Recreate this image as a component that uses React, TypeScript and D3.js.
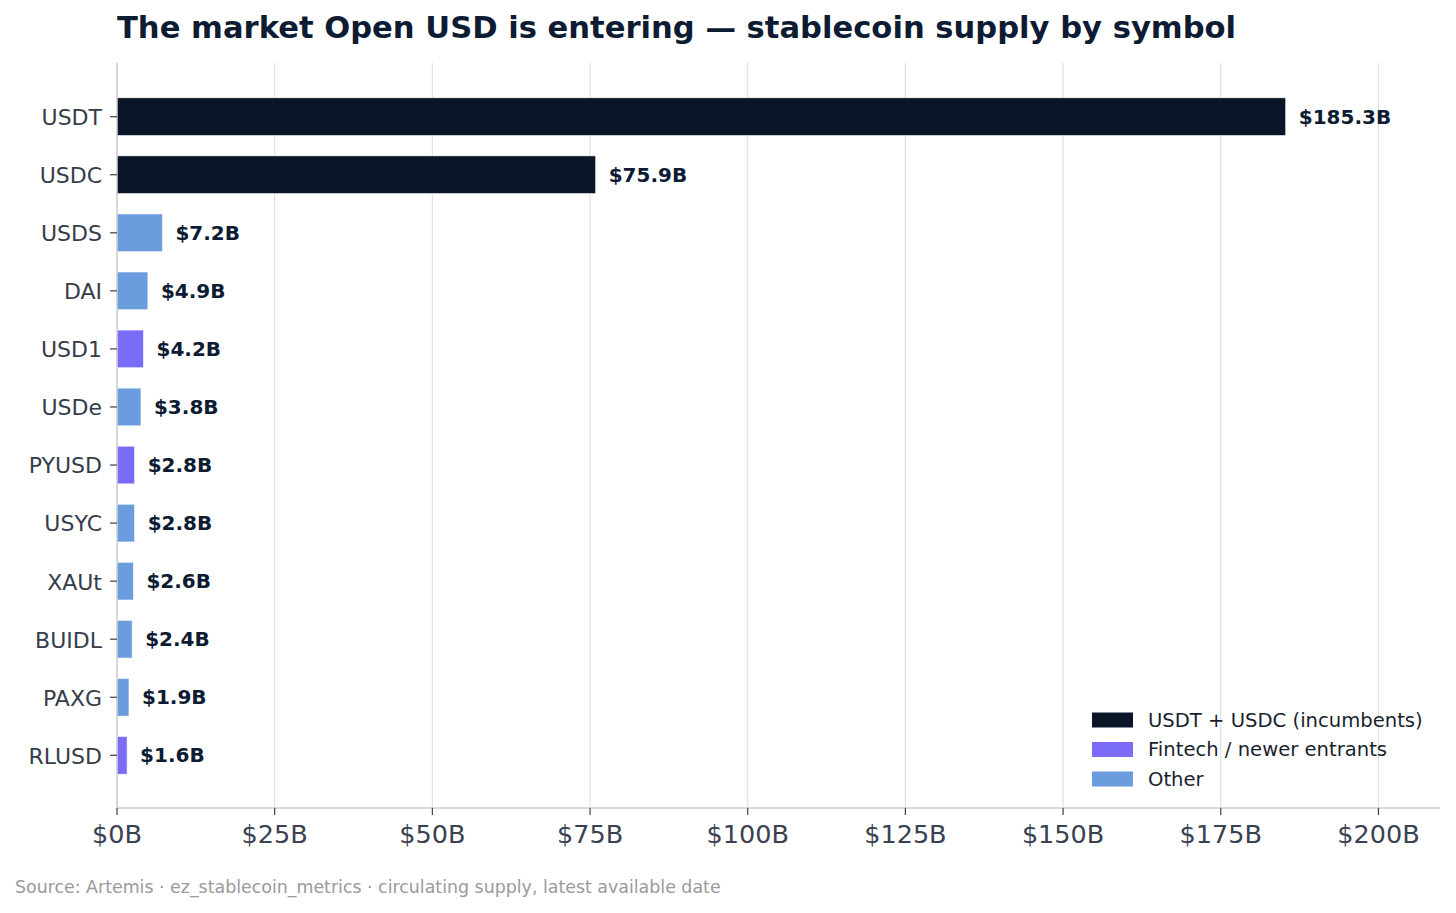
import React, { useRef, useEffect } from "react";
import * as d3 from "d3";

const symbols = ["USDT", "USDC", "USDS", "DAI", "USD1", "USDe", "PYUSD", "USYC", "XAUt", "BUIDL", "PAXG", "RLUSD"];
const supply = [185.3, 75.9, 7.2, 4.9, 4.2, 3.8, 2.8, 2.8, 2.6, 2.4, 1.9, 1.6];
const groups = ["inc", "inc", "other", "other", "fin", "other", "fin", "other", "other", "other", "other", "fin"];
const xTicks = [0, 25, 50, 75, 100, 125, 150, 175, 200];

const legendItems = [
  { key: "inc", label: "USDT + USDC (incumbents)", color: "#0a1628" },
  { key: "fin", label: "Fintech / newer entrants", color: "#7a6cf7" },
  { key: "other", label: "Other", color: "#6b9cdd" },
];

export default function App() {
  const ref = useRef<SVGSVGElement | null>(null);

  useEffect(() => {
    const width = 1456;
    const height = 913;
    const margin = { top: 64, right: 16, bottom: 105, left: 117 };
    const font = "DejaVu Sans, sans-serif";

    d3.select(ref.current).selectAll("*").remove();
    const svg = d3.select(ref.current).attr("width", width).attr("height", height).style("background", "#fff");

    const color = (g: string) => legendItems.find((l) => l.key === g)!.color;

    const x = d3
      .scaleLinear()
      .domain([0, d3.max(supply)! * 1.132])
      .range([margin.left, width - margin.right]);

    // matplotlib-style barh: positions 0..n-1, inverted, 5% margins
    const n = symbols.length;
    const half = 0.325;
    const pad = (n - 1 + 2 * half) * 0.05;
    const y = d3
      .scaleLinear()
      .domain([-half - pad, n - 1 + half + pad])
      .range([margin.top, height - margin.bottom]);
    const barH = y(half) - y(-half);

    // grid
    svg
      .append("g")
      .selectAll("line")
      .data(xTicks)
      .join("line")
      .attr("x1", (d) => x(d))
      .attr("x2", (d) => x(d))
      .attr("y1", margin.top - 1)
      .attr("y2", height - margin.bottom)
      .attr("stroke", "#e0e0e0")
      .attr("stroke-width", 1.2);

    // bars
    svg
      .append("g")
      .selectAll("rect")
      .data(symbols)
      .join("rect")
      .attr("x", x(0))
      .attr("y", (_, i) => y(i) - barH / 2)
      .attr("width", (_, i) => x(supply[i]) - x(0))
      .attr("height", barH)
      .attr("fill", (_, i) => color(groups[i]))
      .attr("stroke", "#ffffff")
      .attr("stroke-width", 0.6);

    // value labels
    svg
      .append("g")
      .selectAll("text")
      .data(symbols)
      .join("text")
      .attr("x", (_, i) => x(supply[i]) + 13)
      .attr("y", (_, i) => y(i))
      .attr("dy", "0.35em")
      .attr("font-family", font)
      .attr("font-weight", "bold")
      .attr("font-size", 20)
      .attr("fill", "#0d1b33")
      .text((_, i) => `$${supply[i].toFixed(1)}B`);

    // y axis
    const yAxis = svg.append("g");
    yAxis
      .append("line")
      .attr("x1", x(0))
      .attr("x2", x(0))
      .attr("y1", margin.top - 1)
      .attr("y2", height - margin.bottom)
      .attr("stroke", "#c9cdd3")
      .attr("stroke-width", 1.3);
    const yt = yAxis
      .selectAll("g.tick")
      .data(symbols)
      .join("g")
      .attr("class", "tick")
      .attr("transform", (_, i) => `translate(0,${y(i)})`);
    yt.append("line").attr("x1", x(0) - 7).attr("x2", x(0)).attr("stroke", "#3a4150").attr("stroke-width", 1.2);
    yt
      .append("text")
      .attr("x", x(0) - 15)
      .attr("dy", "0.38em")
      .attr("text-anchor", "end")
      .attr("font-family", font)
      .attr("font-size", 22)
      .attr("fill", "#353c4a")
      .text((d) => d);

    // x axis
    const xAxis = svg.append("g");
    const yb = height - margin.bottom;
    xAxis
      .append("line")
      .attr("x1", x(0))
      .attr("x2", width - margin.right)
      .attr("y1", yb)
      .attr("y2", yb)
      .attr("stroke", "#c9cdd3")
      .attr("stroke-width", 1.3);
    const xt = xAxis
      .selectAll("g.tick")
      .data(xTicks)
      .join("g")
      .attr("class", "tick")
      .attr("transform", (d) => `translate(${x(d)},${yb})`);
    xt.append("line").attr("y1", 0).attr("y2", 7).attr("stroke", "#3a4150").attr("stroke-width", 1.2);
    xt
      .append("text")
      .attr("y", 35)
      .attr("text-anchor", "middle")
      .attr("font-family", font)
      .attr("font-size", 25.5)
      .attr("fill", "#3a4150")
      .text((d) => `$${d}B`);

    // legend
    const lg = svg.append("g").attr("transform", "translate(1092,720)");
    const li = lg
      .selectAll("g")
      .data(legendItems)
      .join("g")
      .attr("transform", (_, i) => `translate(0,${i * 29.5})`);
    li.append("rect").attr("x", 0).attr("y", -7.5).attr("width", 41).attr("height", 15).attr("fill", (d) => d.color);
    li
      .append("text")
      .attr("x", 56)
      .attr("dy", "0.35em")
      .attr("font-family", font)
      .attr("font-size", 19.6)
      .attr("fill", "#1a1f2e")
      .text((d) => d.label);

    // title
    svg
      .append("text")
      .attr("x", 117)
      .attr("y", 38)
      .attr("font-family", font)
      .attr("font-weight", "bold")
      .attr("font-size", 30.6)
      .attr("fill", "#0d1b33")
      .text("The market Open USD is entering — stablecoin supply by symbol");

    // source
    svg
      .append("text")
      .attr("x", 15)
      .attr("y", 893)
      .attr("font-family", font)
      .attr("font-size", 17.4)
      .attr("fill", "#9a9a9a")
      .text("Source: Artemis · ez_stablecoin_metrics · circulating supply, latest available date");
  }, []);

  return (
    <div style={{ position: "absolute", left: 0, top: 0 }}>
      <svg ref={ref}></svg>
    </div>
  );
}
